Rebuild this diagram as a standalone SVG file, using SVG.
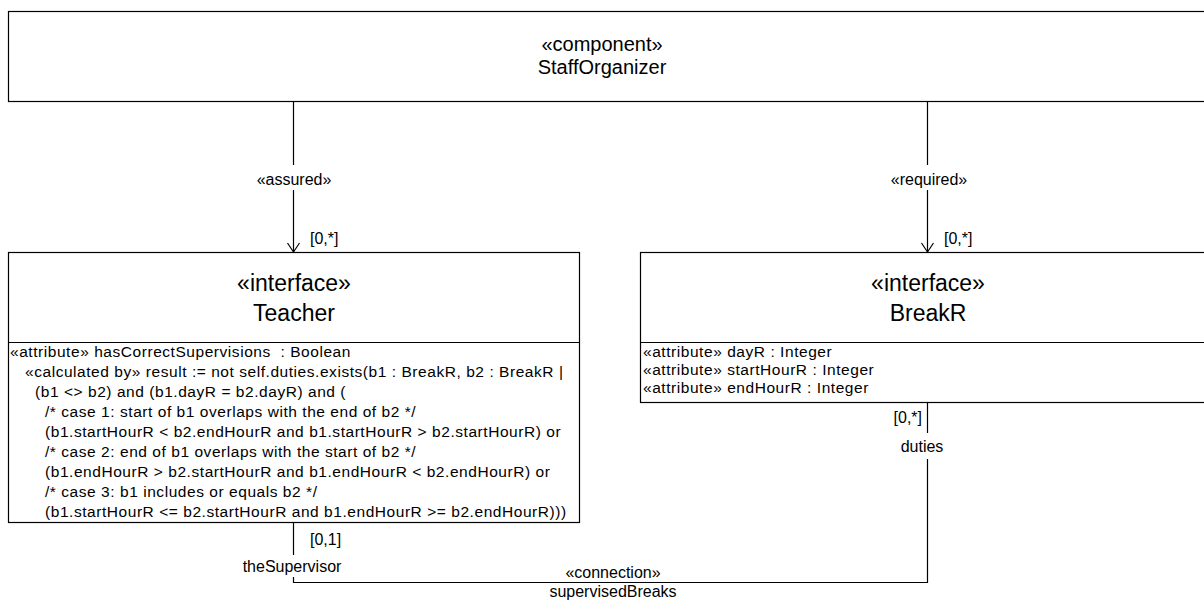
<svg xmlns="http://www.w3.org/2000/svg" width="1204" height="600" viewBox="0 0 1204 600">
<style>
  .box { fill: #fff; stroke: #000; stroke-width: 1.2; }
  .ln { fill: none; stroke: #000; stroke-width: 1.2; }
  .title { font-family: "Liberation Sans", Arial, sans-serif; font-size: 20px; fill: #000; text-anchor: middle; }
  .ititle { font-family: "Liberation Sans", Arial, sans-serif; font-size: 23px; fill: #000; text-anchor: middle; }
  .attr { font-family: "Liberation Sans", Arial, sans-serif; font-size: 15.5px; letter-spacing: 0.55px; fill: #000; white-space: pre; }
  .lbl { font-family: "Liberation Sans", Arial, sans-serif; font-size: 16px; fill: #000; }
  .mid { text-anchor: middle; }
  .end { text-anchor: end; }
</style>
<rect width="1204" height="600" fill="#fff"/>
<g id="StaffOrganizer">
  <rect class="box" x="8.5" y="11.5" width="1205" height="90"/>
  <text class="title" x="602" y="51">«component»</text>
  <text class="title" x="602" y="74">StaffOrganizer</text>
</g>
<g id="Teacher">
  <rect class="box" x="8.5" y="252.5" width="571" height="270"/>
  <line class="ln" x1="8.5" y1="342.5" x2="579.5" y2="342.5"/>
  <text class="ititle" x="294" y="291">«interface»</text>
  <text class="ititle" x="294" y="321">Teacher</text>
  <text class="attr" x="10" y="357">«attribute» hasCorrectSupervisions  : Boolean</text>
  <text class="attr" x="25" y="377">«calculated by» result := not self.duties.exists(b1 : BreakR, b2 : BreakR |</text>
  <text class="attr" x="35" y="397">(b1 &lt;&gt; b2) and (b1.dayR = b2.dayR) and (</text>
  <text class="attr" x="45" y="417">/* case 1: start of b1 overlaps with the end of b2 */</text>
  <text class="attr" x="45" y="437">(b1.startHourR &lt; b2.endHourR and b1.startHourR &gt; b2.startHourR) or</text>
  <text class="attr" x="45" y="457">/* case 2: end of b1 overlaps with the start of b2 */</text>
  <text class="attr" x="45" y="477">(b1.endHourR &gt; b2.startHourR and b1.endHourR &lt; b2.endHourR) or</text>
  <text class="attr" x="45" y="497">/* case 3: b1 includes or equals b2 */</text>
  <text class="attr" x="45" y="517">(b1.startHourR &lt;= b2.startHourR and b1.endHourR &gt;= b2.endHourR)))</text>
</g>
<g id="BreakR">
  <rect class="box" x="640.5" y="252.5" width="580" height="150"/>
  <line class="ln" x1="640.5" y1="342.5" x2="1204" y2="342.5"/>
  <text class="ititle" x="928" y="291">«interface»</text>
  <text class="ititle" x="928" y="321">BreakR</text>
  <text class="attr" x="643" y="357">«attribute» dayR : Integer</text>
  <text class="attr" x="643" y="375">«attribute» startHourR : Integer</text>
  <text class="attr" x="643" y="393">«attribute» endHourR : Integer</text>
</g>
<g id="connectors">
  <g id="assured">
    <path class="ln" d="M293.5 102 V165 M293.5 190 V252"/>
    <polyline class="ln" points="287.5,243 293.5,252 299.5,243"/>
    <text class="lbl mid" x="294" y="185">«assured»</text>
    <text class="lbl" x="310" y="244">[0,*]</text>
  </g>
  <g id="required">
    <path class="ln" d="M927.5 102 V165 M927.5 190 V252"/>
    <polyline class="ln" points="921.5,243 927.5,252 933.5,243"/>
    <text class="lbl mid" x="929" y="185">«required»</text>
    <text class="lbl" x="944" y="244">[0,*]</text>
  </g>
  <g id="supervisedBreaks">
    <path class="ln" d="M927.5 402 V433 M927.5 459 V582.5 H293.5 V577 M293.5 555 V522"/>
    <text class="lbl end" x="922" y="423">[0,*]</text>
    <text class="lbl mid" x="922" y="452">duties</text>
    <text class="lbl" x="310" y="545">[0,1]</text>
    <text class="lbl mid" x="292" y="572">theSupervisor</text>
    <text class="lbl mid" x="613" y="578">«connection»</text>
    <text class="lbl mid" x="613" y="597">supervisedBreaks</text>
  </g>
</g>
</svg>
